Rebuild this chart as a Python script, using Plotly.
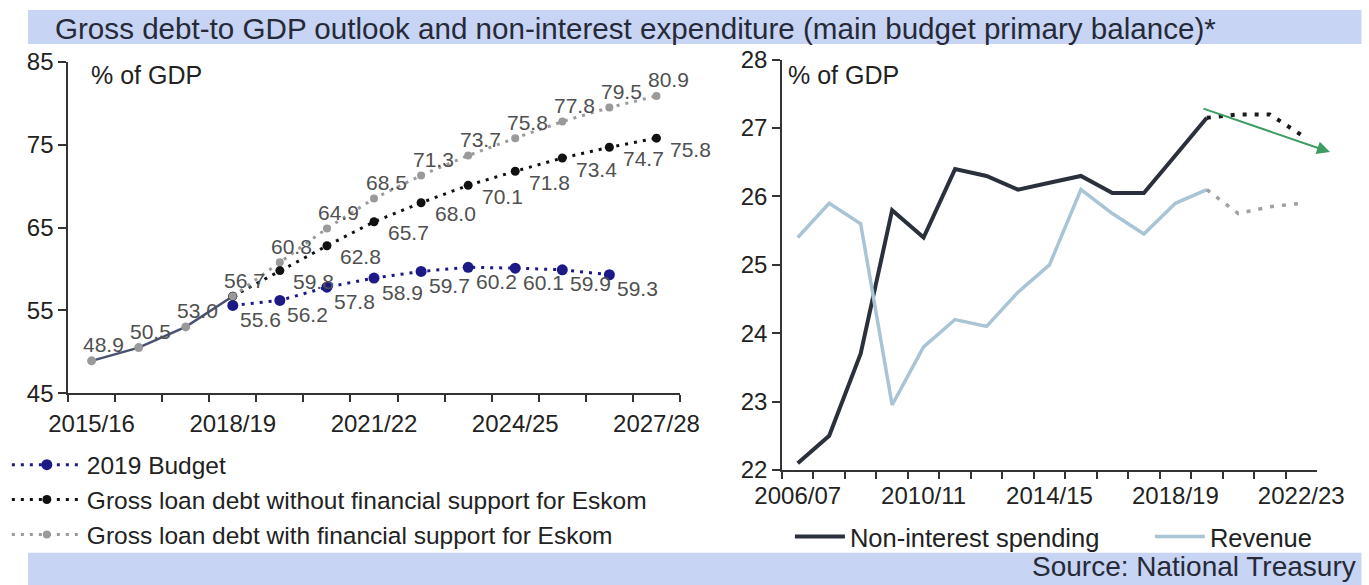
import plotly.graph_objects as go

# ---------------- data ----------------
years_debt = ["2015/16", "2016/17", "2017/18", "2018/19", "2019/20", "2020/21", "2021/22",
              "2022/23", "2023/24", "2024/25", "2025/26", "2026/27", "2027/28"]
debt_history = [48.9, 50.5, 53.0, 56.7]                       # 2015/16 - 2018/19
debt_with_eskom = [60.8, 64.9, 68.5, 71.3, 73.7, 75.8, 77.8, 79.5, 80.9]      # 2019/20 - 2027/28
debt_without_eskom = [59.8, 62.8, 65.7, 68.0, 70.1, 71.8, 73.4, 74.7, 75.8]   # 2019/20 - 2027/28
budget_2019 = [55.6, 56.2, 57.8, 58.9, 59.7, 60.2, 60.1, 59.9, 59.3]          # 2018/19 - 2026/27
debt_tick_labels = ["2015/16", "2018/19", "2021/22", "2024/25", "2027/28"]

years_fiscal = ["2006/07", "2007/08", "2008/09", "2009/10", "2010/11", "2011/12", "2012/13",
                "2013/14", "2014/15", "2015/16", "2016/17", "2017/18", "2018/19", "2019/20",
                "2020/21", "2021/22", "2022/23"]
spending_actual = [22.1, 22.5, 23.7, 25.8, 25.4, 26.4, 26.3, 26.1, 26.2, 26.3, 26.05, 26.05, 26.6, 27.15]
spending_outlook = [27.2, 27.2, 26.9]     # 2020/21 - 2022/23
revenue_actual = [25.4, 25.9, 25.6, 22.95, 23.8, 24.2, 24.1, 24.6, 25.0, 26.1, 25.75, 25.45, 25.9, 26.1]
revenue_outlook = [25.75, 25.85, 25.9]    # 2020/21 - 2022/23
fiscal_tick_labels = ["2006/07", "2010/11", "2014/15", "2018/19", "2022/23"]

FONT = "Liberation Sans, Arial, sans-serif"
TXT = "#222222"
LBL = "#505050"
NAVY = "#1c1a86"
GREY_PT = "#9a9a9a"
DOTS = "3px,6px"

fig = go.Figure()

n_hist = len(debt_history)
proj_x = years_debt[n_hist - 1:]

# historical debt (solid)
fig.add_trace(go.Scatter(
    x=years_debt[:n_hist], y=debt_history, mode="lines+markers",
    line=dict(color="#4a5070", width=2.5),
    marker=dict(color=GREY_PT, size=9),
    showlegend=False, xaxis="x", yaxis="y"))

fig.add_trace(go.Scatter(
    x=proj_x[:len(budget_2019)], y=budget_2019, mode="lines+markers", name="2019 Budget",
    line=dict(color=NAVY, width=3, dash=DOTS),
    marker=dict(color=NAVY, size=11), legend="legend", xaxis="x", yaxis="y"))

fig.add_trace(go.Scatter(
    x=proj_x, y=[debt_history[-1]] + debt_without_eskom, mode="lines+markers",
    name="Gross loan debt without financial support for Eskom",
    line=dict(color="#111111", width=3, dash=DOTS),
    marker=dict(color="#111111", size=9), legend="legend", xaxis="x", yaxis="y"))

fig.add_trace(go.Scatter(
    x=proj_x, y=[debt_history[-1]] + debt_with_eskom, mode="lines+markers",
    name="Gross loan debt with financial support for Eskom",
    line=dict(color=GREY_PT, width=3, dash=DOTS),
    marker=dict(color=GREY_PT, size=8), legend="legend", xaxis="x", yaxis="y"))

# non-interest spending and revenue
n_act = len(spending_actual)
fig.add_trace(go.Scatter(
    x=years_fiscal[:n_act], y=spending_actual, mode="lines", name="Non-interest spending",
    line=dict(color="#2b313c", width=4), legend="legend2", xaxis="x2", yaxis="y2"))
fig.add_trace(go.Scatter(
    x=years_fiscal[:n_act], y=revenue_actual, mode="lines", name="Revenue",
    line=dict(color="#a9c5d5", width=3.5), legend="legend2", xaxis="x2", yaxis="y2"))
fig.add_trace(go.Scatter(
    x=years_fiscal[n_act - 1:], y=[spending_actual[-1]] + spending_outlook, mode="lines",
    line=dict(color="#1a1a1a", width=4, dash="4px,8px"), showlegend=False, xaxis="x2", yaxis="y2"))
fig.add_trace(go.Scatter(
    x=years_fiscal[n_act - 1:], y=[revenue_actual[-1]] + revenue_outlook, mode="lines",
    line=dict(color="#a0a0a0", width=3.5, dash="4px,8px"), showlegend=False, xaxis="x2", yaxis="y2"))

# value labels on the debt chart
ann = []
def value_labels(xs, ys, dx, dy):
    for x, y in zip(xs, ys):
        ann.append(dict(x=x, y=y, xref="x", yref="y", text=f"{y:.1f}", showarrow=False,
                        xshift=dx, yshift=dy, font=dict(family=FONT, size=21, color=LBL)))

value_labels(years_debt[:n_hist], debt_history, 12, 16)
value_labels(years_debt[n_hist:], debt_with_eskom, 12, 16)
value_labels(years_debt[n_hist:], debt_without_eskom, 34, -11)
value_labels(proj_x[:len(budget_2019)], budget_2019, 28, -14)

# panel captions
ann.append(dict(x=0.065, y=0.872, xref="paper", yref="paper", text="% of GDP", showarrow=False,
                xanchor="left", yanchor="middle", font=dict(family=FONT, size=25, color=TXT)))
ann.append(dict(x=0.574, y=0.872, xref="paper", yref="paper", text="% of GDP", showarrow=False,
                xanchor="left", yanchor="middle", font=dict(family=FONT, size=25, color=TXT)))

# title and source banners
ann.append(dict(x=0.039, y=0.951, xref="paper", yref="paper",
                text="Gross debt-to GDP outlook and non-interest expenditure (main budget primary balance)*",
                showarrow=False, xanchor="left", yanchor="middle",
                font=dict(family=FONT, size=29.6, color="#262a38")))
ann.append(dict(x=0.992, y=0.031, xref="paper", yref="paper", text="Source: National Treasury",
                showarrow=False, xanchor="right", yanchor="middle",
                font=dict(family=FONT, size=28, color="#262a38")))

# downward outlook arrow
ann.append(dict(x=0.9715, y=0.740, ax=-128, ay=-44, xref="paper", yref="paper",
                axref="pixel", ayref="pixel", text="", showarrow=True, arrowhead=2,
                arrowsize=1.3, arrowwidth=2, arrowcolor="#3d9c62"))

shapes = [
    dict(type="rect", xref="paper", yref="paper", x0=0.0205, x1=0.9945, y0=0.925, y1=0.983,
         fillcolor="#c7d4f4", line=dict(width=0), layer="below"),
    dict(type="rect", xref="paper", yref="paper", x0=0.0205, x1=0.9945, y0=0.0, y1=0.055,
         fillcolor="#c7d4f4", line=dict(width=0), layer="below"),
]

axis_common = dict(showgrid=False, zeroline=False, showline=True, linecolor="#333333",
                   linewidth=1.5, ticks="outside", tickcolor="#333333", tickwidth=1.5,
                   tickfont=dict(family=FONT, size=24, color=TXT))

fig.update_layout(
    width=1369, height=585, margin=dict(l=0, r=0, t=0, b=0, autoexpand=False),
    paper_bgcolor="white", plot_bgcolor="white",
    xaxis=dict(domain=[0.0497, 0.4967], type="category", categoryorder="array",
               categoryarray=years_debt, range=[-0.5, len(years_debt) - 0.5],
               tickmode="array", tickvals=years_debt, tickangle=0,
               ticktext=[y if y in debt_tick_labels else "" for y in years_debt],
               tickson="boundaries", ticklen=7, ticklabelstandoff=8, anchor="y", **axis_common),
    yaxis=dict(domain=[0.328, 0.894], range=[45, 85], tickvals=[45, 55, 65, 75, 85],
               ticklen=8, anchor="x", **axis_common),
    xaxis2=dict(domain=[0.5712, 0.962], type="category", categoryorder="array",
                categoryarray=years_fiscal, range=[-0.5, len(years_fiscal) - 0.5],
                tickmode="array", tickvals=years_fiscal, tickangle=0,
                ticktext=[y if y in fiscal_tick_labels else "" for y in years_fiscal],
                tickson="boundaries", ticklen=7, ticklabelstandoff=3, anchor="y2", **axis_common),
    yaxis2=dict(domain=[0.1966, 0.898], range=[22, 28], dtick=1,
                ticklen=8, anchor="x2", **axis_common),
    legend=dict(x=0.005, y=0.244, xanchor="left", yanchor="top", orientation="v",
                font=dict(family=FONT, size=24.5, color=TXT), itemwidth=70,
                bgcolor="rgba(0,0,0,0)", tracegroupgap=0),
    legend2=dict(x=0.577, y=0.082, xanchor="left", yanchor="middle", orientation="h",
                 font=dict(family=FONT, size=25.5, color=TXT), itemwidth=50, entrywidth=295,
                 bgcolor="rgba(0,0,0,0)"),
    annotations=ann, shapes=shapes,
)

fig.write_html("out.html")
